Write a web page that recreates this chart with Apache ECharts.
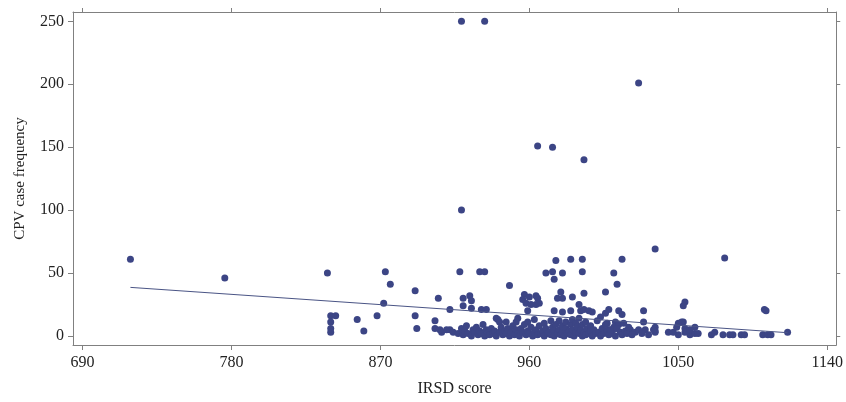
<!DOCTYPE html>
<html>
<head>
<meta charset="utf-8">
<script src="https://cdn.jsdelivr.net/npm/echarts@6/dist/echarts.min.js"></script>
<style>html,body{margin:0;padding:0;background:#fff;}#chart{width:846px;height:402px;}</style>
</head>
<body>
<div id="chart"></div>
<script>
// IRSD score (x) and CPV case frequency (y), one observation per index
const irsd = [
  719,776,838,840,843,840,840,840,856,860,868,872,873,876,891,891,892,903,903,905,907,912,912,
  918,919,919,920,920,924,925,925,930,933,931,934,933,948,940,941,942,946,952,953,
  957,960,964,965,956,958,961,964,966,959,959,963,965,974,970,974,976,975,980,985,
  992,992,993,1011,1016,1013,1036,1026,1078,1006,979,993,986,977,980,975,980,985,990,991,
  993,996,998,1006,1008,1014,1016,1029,1003,1054,1053,1102,1103,1050,1053,1036,1036,1036,1044,1050,
  1054,1057,1060,1062,1060,1070,1072,1077,1081,1083,1088,1090,1101,1104,1106,1116,1007,1012,1014,1017,
  1021,1024,1026,1029,1030,1035,1047,1049,1052,1054,1057,1008,1010,1012,906,910,914,917,919,920,
  921,922,923,925,926,927,928,929,930,931,932,933,934,935,936,937,938,939,940,942,
  943,944,945,946,947,948,949,950,951,952,953,954,955,956,957,958,959,960,961,962,
  963,964,965,966,967,968,969,969,970,971,972,973,973,974,975,975,976,977,978,978,
  979,980,980,981,982,982,983,984,985,985,986,986,987,988,988,989,990,990,991,992,
  992,993,994,994,995,996,997,997,998,999,1000,1001,1002,1003,1004,1005,1006,1007,1008,1009,
  1011,1012,1013,1015,1016,1018,1019,1020,1022,1028,1032
];
const cpv = [
  61,46,50,16,16,11,6,3,13,4,16,26,51,41,36,16,6,12,6,30,3,5,21,
  51,100,250,30,24,32,28,22,51,51,21,21,250,40,14,13,11,11,11,14,
  33,31,32,30,29,26,25,25,26,20,11,13,151,150,50,51,60,45,50,61,
  61,51,140,50,61,41,69,201,62,35,35,34,31,30,30,20,19,20,25,20,
  21,20,19,18,21,20,17,20,15,27,24,21,20,10,11,7,4,3,3,1,
  6,1,2,2,7,1,3,1,1,1,1,1,1,1,1,3,10,11,9,10,
  5,3,5,11,5,5,3,7,11,3,5,5,2,6,5,5,3,2,6,1,
  4,8,2,0,5,3,7,1,4,2,9,0,5,3,1,6,2,4,0,3,
  7,1,4,2,6,0,3,8,1,5,2,0,6,3,9,1,4,2,7,0,
  3,5,1,8,2,4,10,0,6,2,3,12,1,7,4,0,9,2,5,12,
  1,8,3,0,6,11,2,4,9,1,13,5,0,3,10,7,2,14,5,0,
  9,3,11,1,6,2,8,4,0,5,2,12,3,0,6,2,9,4,1,5,
  7,0,6,3,1,4,2,7,1,2,1
];
// fitted linear trend
const fitIntercept = 103.8;
const fitSlope = -0.0907;
// tick labels
const xTicks = [690, 780, 870, 960, 1050, 1140];
const yTicks = [0, 50, 100, 150, 200, 250];

const n = Math.min(irsd.length, cpv.length);
const scatterData = [];
for (let i = 0; i < n; i++) scatterData.push([irsd[i], cpv[i]]);
const xMin = Math.min.apply(null, irsd), xMax = Math.max.apply(null, irsd);
const fitData = [[xMin, fitIntercept + fitSlope * xMin], [xMax, fitIntercept + fitSlope * xMax]];

const axisColor = '#808080';
const textStyle = { fontFamily: 'Liberation Serif', fontSize: 16, color: '#222' };
const X_MIN = 684.3, X_MAX = 1145.4, Y_MIN = -7.2, Y_MAX = 257.4;
const plain = v => String(Math.round(v));

const chart = echarts.init(document.getElementById('chart'), null, { renderer: 'canvas' });
chart.setOption({
  animation: false,
  backgroundColor: '#fff',
  grid: { left: 73, right: 6, top: 12, bottom: 57, containLabel: false },
  xAxis: [{
    type: 'value', min: X_MIN, max: X_MAX, position: 'bottom',
    name: 'IRSD score', nameLocation: 'middle', nameGap: 36,
    nameTextStyle: textStyle,
    axisLine: { show: true, onZero: false, lineStyle: { color: axisColor, width: 1 } },
    axisTick: { show: true, length: 5, customValues: xTicks, lineStyle: { color: axisColor } },
    axisLabel: { customValues: xTicks, margin: 10, formatter: plain, ...textStyle },
    splitLine: { show: false }
  }, {
    type: 'value', min: X_MIN, max: X_MAX, position: 'top',
    axisLine: { show: true, onZero: false, lineStyle: { color: axisColor, width: 1 } },
    axisTick: { show: true, length: 4, customValues: xTicks, lineStyle: { color: axisColor } },
    axisLabel: { show: false },
    splitLine: { show: false }
  }],
  yAxis: [{
    type: 'value', min: Y_MIN, max: Y_MAX, position: 'left',
    name: 'CPV case frequency', nameLocation: 'middle', nameGap: 45, nameRotate: 90,
    nameTextStyle: { ...textStyle, fontSize: 15 },
    axisLine: { show: true, onZero: false, lineStyle: { color: axisColor, width: 1 } },
    axisTick: { show: true, length: 5, customValues: yTicks, lineStyle: { color: axisColor } },
    axisLabel: { customValues: yTicks, margin: 9, formatter: plain, ...textStyle },
    splitLine: { show: false }
  }, {
    type: 'value', min: Y_MIN, max: Y_MAX, position: 'right',
    axisLine: { show: true, onZero: false, lineStyle: { color: axisColor, width: 1 } },
    axisTick: { show: true, length: 4, customValues: yTicks, lineStyle: { color: axisColor } },
    axisLabel: { show: false },
    splitLine: { show: false }
  }],
  series: [{
    type: 'scatter', xAxisIndex: 0, yAxisIndex: 0,
    data: scatterData, symbol: 'circle', symbolSize: 7,
    itemStyle: { color: '#3c4585', opacity: 1 }
  }, {
    type: 'line', xAxisIndex: 0, yAxisIndex: 0,
    data: fitData, showSymbol: false, symbol: 'none',
    lineStyle: { color: '#4a5485', width: 1 }
  }]
});
</script>
</body>
</html>
